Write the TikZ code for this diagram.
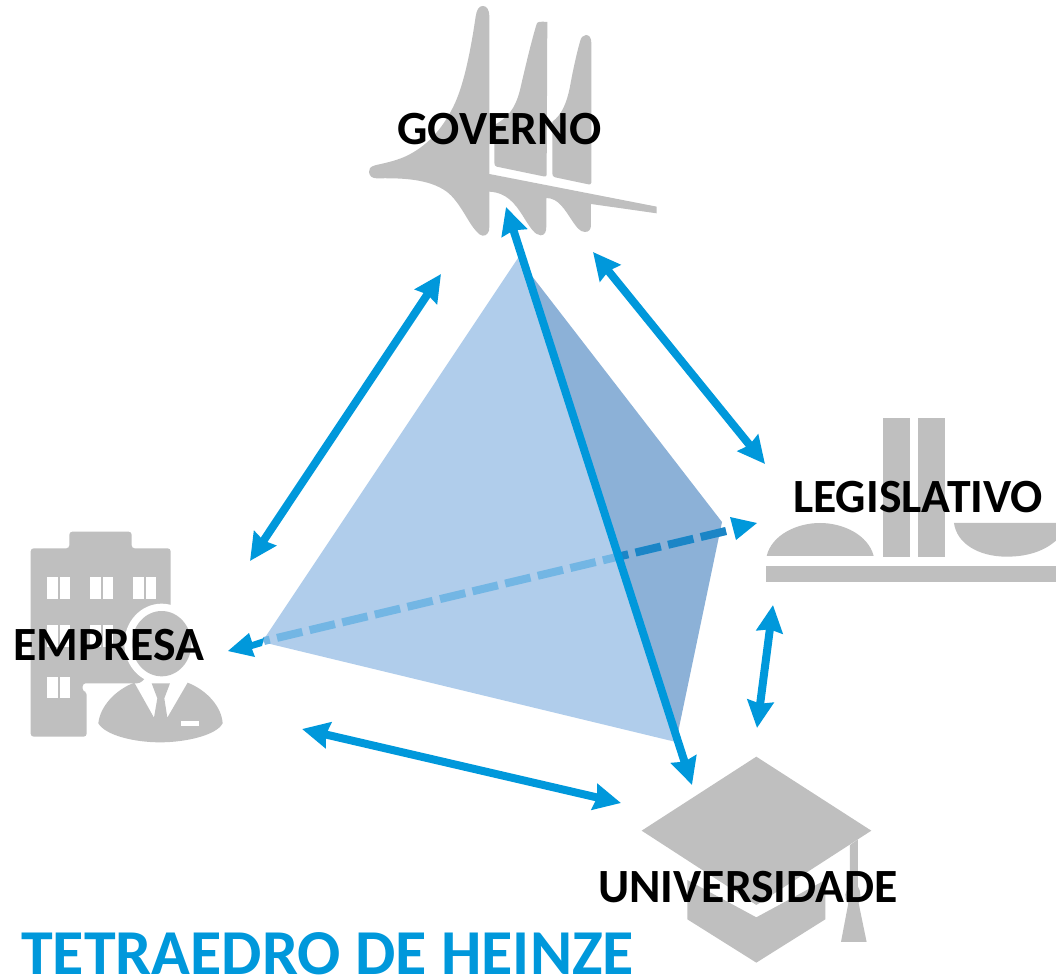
\documentclass[tikz,border=0pt]{standalone}
\usepackage{fontspec}
\setmainfont{Carlito}
\usetikzlibrary{arrows.meta}
\definecolor{iconGray}{HTML}{BFBFBF}
\definecolor{flowBlue}{HTML}{0098DB}
\definecolor{faceLight}{HTML}{B0CDEB}
\definecolor{faceDark}{HTML}{8CB1D7}
\definecolor{dashLight}{HTML}{73B6E4}
\definecolor{dashDark}{HTML}{1B85C6}
\tikzset{
  icon/.style={fill=iconGray,draw=none},
  hole/.style={fill=white,draw=none},
  link/.style={draw=flowBlue,line width=8pt,{Stealth[length=27pt,width=26pt,inset=2.5pt]}-{Stealth[length=27pt,width=26pt,inset=2.5pt]}},
  label/.style={font=\bfseries\fontsize{47.7}{48}\selectfont,text=black,inner sep=0pt},
  dashline/.style={line width=8pt,dash pattern=on 26pt off 7.5pt},
}
\begin{document}
\begin{tikzpicture}[x=1pt,y=-1pt]
\useasboundingbox (0,0) rectangle (1056,976);
% ---------- tetrahedron
\coordinate (apex) at (518,258);
\coordinate (left) at (262,642);
\coordinate (front) at (676,742);
\coordinate (back) at (722,522);
\fill[faceDark] (apex) -- (back) -- (front) -- cycle;
\fill[faceLight] (apex) -- (left) -- (front) -- cycle;
% ---------- GOVERNO icon (zoom coordinates: 3 units per pixel)
\begin{scope}[shift={(350,0)},x=0.3333pt,y=-0.3333pt]
\path[icon] (418,50) .. controls (418,28) and (410,18) .. (398,18)
  .. controls (386,18) and (380,30) .. (377,50)
  .. controls (365,130) and (345,250) .. (310,320)
  .. controls (275,390) and (230,440) .. (165,470)
  .. controls (130,485) and (100,490) .. (75,496)
  .. controls (60,500) and (56,508) .. (57,516)
  .. controls (58,528) and (66,535) .. (80,535)
  .. controls (150,534) and (235,535) .. (290,575)
  .. controls (330,605) and (355,670) .. (380,695)
  .. controls (390,708) and (405,712) .. (413,700)
  .. controls (417,695) and (418,690) .. (418,680)
  -- (418,575)
  .. controls (470,578) and (495,610) .. (520,650)
  .. controls (540,682) and (555,706) .. (572,706)
  .. controls (584,706) and (589,696) .. (589,680)
  -- (589,594)
  .. controls (625,594) and (645,630) .. (665,660)
  .. controls (680,682) and (690,696) .. (705,696)
  .. controls (717,696) and (723,688) .. (723,675)
  -- (723,612) -- (920,640) -- (920,620) -- (418,522) -- cycle;
\path[icon] (560,72) .. controls (562,65) and (570,64) .. (592,66)
  -- (590,525) .. controls (590,530) and (585,530) .. (580,529)
  -- (440,500) .. controls (435,498) and (433,495) .. (433,488)
  -- (433,375)
  .. controls (470,355) and (495,330) .. (510,270)
  .. controls (525,205) and (545,120) .. (560,72) -- cycle;
\path[icon] (690,125) .. controls (693,112) and (700,105) .. (708,105)
  .. controls (718,105) and (724,114) .. (724,128)
  -- (724,548) .. controls (724,553) and (720,554) .. (715,553)
  -- (615,532) .. controls (609,530) and (607,527) .. (607,520)
  -- (607,365)
  .. controls (635,345) and (650,310) .. (660,260)
  .. controls (668,215) and (680,160) .. (690,125) -- cycle;
\end{scope}
% ---------- EMPRESA building
\begin{scope}[shift={(0,520)},x=0.3333pt,y=-0.3333pt]
\path[icon,rounded corners=3pt] (92,85) -- (208,85) -- (208,35) -- (395,35) -- (395,85)
  -- (512,85) -- (512,400) -- (420,490) -- (248,490) -- (248,515) -- (260,515) -- (260,650) -- (92,650) -- cycle;
\foreach \xa/\xb in {142/175,180/210,270/303,308/340,400/432,438/468}
  \path[hole] (\xa,172) rectangle (\xb,238);
\foreach \xa/\xb in {142/175,180/210,270/303,308/340}
  \path[hole] (\xa,315) rectangle (\xb,380);
\foreach \xa/\xb in {142/175,180/210}
  \path[hole] (\xa,470) rectangle (\xb,535);
\end{scope}
% ---------- EMPRESA person
\begin{scope}[shift={(80,595)},x=0.3333pt,y=-0.3333pt]
\path[hole] (245,146) ellipse[x radius=112,y radius=120];
\path[icon] (245,146) ellipse[x radius=89,y radius=98];
\path[icon] (55,385) .. controls (60,335) and (105,285) .. (163,263)
  -- (222,368) -- (232,310) -- (215,265) -- (270,265) -- (253,310) -- (262,368)
  -- (323,263)
  .. controls (380,285) and (425,335) .. (428,385)
  .. controls (410,420) and (320,442) .. (240,442)
  .. controls (160,442) and (75,420) .. (55,385) -- cycle;
\path[hole] (303,378) rectangle (357,392);
\end{scope}
% ---------- LEGISLATIVO icon
\begin{scope}[shift={(740,410)},x=0.3333pt,y=-0.3333pt]
\path[icon] (80,438) .. controls (95,375) and (170,339) .. (240,339)
  .. controls (310,339) and (385,375) .. (401,438) -- cycle;
\path[icon] (429,24) rectangle (510,440);
\path[icon] (534,24) rectangle (615,440);
\path[icon] (642,339) -- (948,339) -- (948,392)
  .. controls (910,425) and (860,440) .. (800,440)
  .. controls (715,440) and (650,400) .. (642,339) -- cycle;
\path[icon] (78,468) rectangle (948,516);
\end{scope}
% ---------- UNIVERSIDADE icon
\begin{scope}[shift={(590,740)},x=0.3333pt,y=-0.3333pt]
\path[icon] (155,272) -- (499,50) -- (844,272) -- (499,495) -- cycle;
\path[icon] (292,420) -- (499,532) -- (706,420) -- (706,538) -- (499,668) -- (292,538) -- cycle;
\path[icon] (780,315) -- (804,298) -- (804,440)
  .. controls (815,455) and (812,480) .. (806,490)
  -- (830,606) -- (753,606) -- (775,490)
  .. controls (760,475) and (765,450) .. (780,440) -- cycle;
\end{scope}
% ---------- hidden edge, dashed, run from the back corner to the left corner
\coordinate (dashStart) at (726,531);
\coordinate (dashEnd) at (264,641);
\draw[dashLight,dashline] (dashStart) -- (dashEnd);
\begin{scope}
\clip (618,480) rectangle (760,600);
\draw[dashDark,dashline] (dashStart) -- (dashEnd);
\end{scope}
% ---------- connector end points
\coordinate (gE) at (441,274); \coordinate (eG) at (250,561);
\coordinate (gL) at (593,252); \coordinate (lG) at (765,464);
\coordinate (eU) at (302,729); \coordinate (uE) at (621,803);
\coordinate (lU) at (773,605); \coordinate (uL) at (757,728);
\coordinate (gU) at (506,207); \coordinate (uG) at (692,785);
\draw[link] (gE) -- (eG);
\draw[link] (gL) -- (lG);
\draw[link] (eU) -- (uE);
\draw[link] (lU) -- (uL);
\draw[link] (gU) -- (uG);
% heads of the dashed edge
\path[fill=flowBlue] (228,651) -- (249,633) -- (252,642) -- (264,638) -- (262,646) -- (252,649) -- (255,657) -- cycle;
\path[fill=flowBlue] (757,523) -- (730,517) -- (736,540) -- cycle;
% ---------- labels
\node[label,anchor=base] (governo) at (499.5,145) {GOVERNO};
\node[label,anchor=base] (empresa) at (109,660) {EMPRESA};
\node[label,anchor=base] (legislativo) at (918,512) {LEGISLATIVO};
\node[label,anchor=base] (universidade) at (748,902) {UNIVERSIDADE};
\node[font=\bfseries\fontsize{64}{64}\selectfont,text=flowBlue,inner sep=0pt,anchor=base west] (title) at (21,974) {TETRAEDRO DE HEINZE};
\end{tikzpicture}
\end{document}
